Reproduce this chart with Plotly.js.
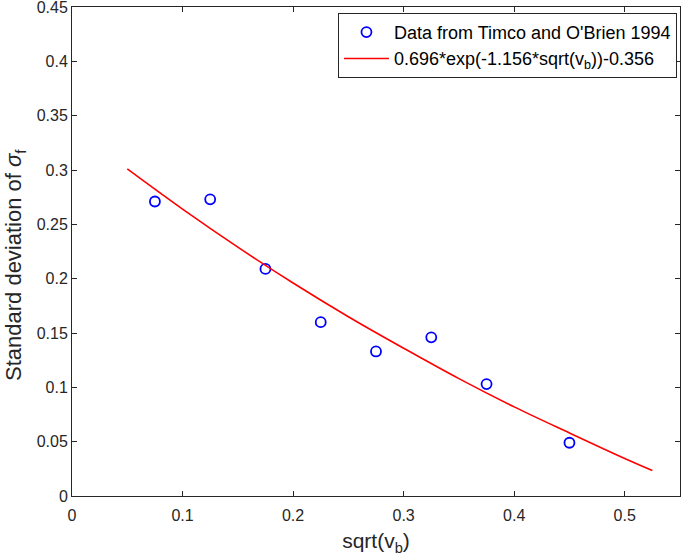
<!DOCTYPE html>
<html>
<head>
<meta charset="utf-8">
<script src="https://cdn.plot.ly/plotly-3.0.1.min.js"></script>
<style>html,body{margin:0;padding:0;background:#fff;}#chart{width:685px;height:556px;}</style>
</head>
<body>
<div id="chart"></div>
<script>
// Measured data (Timco and O'Brien 1994)
const dataX = [0.075, 0.125, 0.175, 0.225, 0.275, 0.325, 0.375, 0.45];
const dataY = [0.271, 0.273, 0.209, 0.160, 0.133, 0.146, 0.103, 0.049];

// Fitted curve, values
const fitX = [0.05, 0.10, 0.15, 0.20, 0.25, 0.30, 0.35, 0.40, 0.45, 0.50, 0.525];
const fitY = [0.301, 0.264, 0.229, 0.196, 0.165, 0.136, 0.108, 0.082, 0.058, 0.0345, 0.0234];

const xTicks = [0, 0.1, 0.2, 0.3, 0.4, 0.5];
const xTickText = ['0', '0.1', '0.2', '0.3', '0.4', '0.5'];
const yTicks = [0, 0.05, 0.1, 0.15, 0.2, 0.25, 0.3, 0.35, 0.4, 0.45];
const yTickText = ['0', '0.05', '0.1', '0.15', '0.2', '0.25', '0.3', '0.35', '0.4', '0.45'];

const legendData = "Data from Timco and O'Brien 1994";
const legendFit = "0.696*exp(-1.156*sqrt(v<sub>b</sub>))-0.356";
const xTitle = 'sqrt(v<sub>b</sub>)';
const yTitle = 'Standard deviation of <i>σ</i><sub>f</sub>';

const FONT = 'Arial, "Liberation Sans", Helvetica, sans-serif';
const AXC = '#262626';

const traces = [
  {
    x: dataX, y: dataY, type: 'scatter', mode: 'markers', name: legendData,
    marker: {symbol: 'circle-open', size: 10, color: '#0000ff', line: {width: 1.8, color: '#0000ff'}}
  },
  {
    x: fitX, y: fitY, type: 'scatter', mode: 'lines', name: legendFit,
    line: {color: '#ff0000', width: 1.6, shape: 'spline'}
  }
];

const axisCommon = {
  showgrid: false, zeroline: false, showline: true, linecolor: AXC, linewidth: 1,
  mirror: 'ticks', ticks: 'inside', ticklen: 5, tickcolor: AXC, tickwidth: 1,
  tickfont: {family: FONT, size: 16, color: AXC}, tickmode: 'array',
  ticklabeloverflow: 'allow'
};

const layout = {
  width: 685, height: 556,
  margin: {l: 72, r: 5, t: 7, b: 60},
  paper_bgcolor: '#fff', plot_bgcolor: '#fff',
  font: {family: FONT, color: AXC},
  showlegend: true,
  legend: {
    x: 0.995, xanchor: 'right', y: 0.988, yanchor: 'top',
    bgcolor: '#fff', bordercolor: '#262626', borderwidth: 1,
    font: {family: FONT, size: 18, color: '#000'},
    itemwidth: 45,
    tracegroupgap: 0
  },
  xaxis: Object.assign({}, axisCommon, {
    range: [0, 0.55], tickvals: xTicks, ticktext: xTickText,
    ticklabelstandoff: 5,
    title: {text: xTitle, font: {family: FONT, size: 21, color: AXC}, standoff: 10}
  }),
  yaxis: Object.assign({}, axisCommon, {
    range: [0, 0.45], tickvals: yTicks, ticktext: yTickText
  }),
  annotations: [{
    text: yTitle, xref: 'paper', yref: 'paper',
    x: -57 / 608, y: (496 - 265) / 489, xanchor: 'center', yanchor: 'middle',
    textangle: -90, showarrow: false,
    font: {family: FONT, size: 22, color: AXC}
  }]
};

Plotly.newPlot('chart', traces, layout, {displayModeBar: false, staticPlot: true});
</script>
</body>
</html>
